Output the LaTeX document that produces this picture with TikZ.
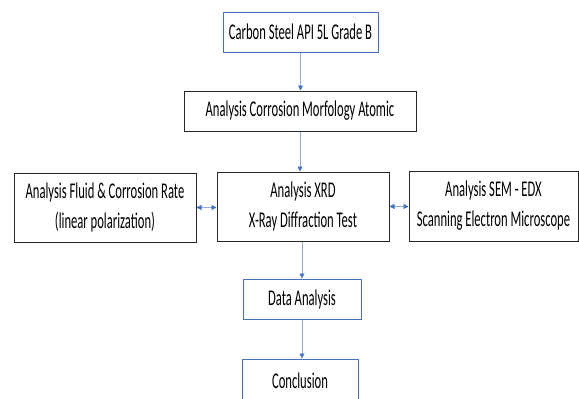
\documentclass[tikz,border=0pt]{standalone}
\usepackage{fontspec}
\setmainfont{Carlito}[FakeStretch=0.56]
\usetikzlibrary{arrows.meta}
\definecolor{boxblue}{RGB}{68,114,196}
\definecolor{lineblue}{RGB}{143,170,220}
\begin{document}
\begin{tikzpicture}[x=1pt,y=-1pt,
  box/.style={draw=black!85, line width=1pt, align=center, inner sep=0pt,
    font=\fontsize{22.5}{30}\selectfont, text=black},
  bluebox/.style={box, draw=boxblue},
  flow/.style={draw=lineblue, line width=.8pt,
    -{Triangle[length=5pt,width=5pt,color=boxblue]}},
  twoway/.style={flow,
    {Triangle[length=5pt,width=5pt,color=boxblue]}-{Triangle[length=5pt,width=5pt,color=boxblue]}}]
\useasboundingbox (0,0) rectangle (579,399);

% main column
\node[bluebox, minimum width=155pt, minimum height=40pt] (steel) at (300.5,32) {Carbon Steel API 5L Grade B};
\node[box, minimum width=232pt, minimum height=40pt] (morph) at (300,111) {Analysis Corrosion Morfology Atomic};

% analysis row
\node[box, minimum width=182pt, minimum height=69pt] (fluid) at (105,207.5) {Analysis Fluid \& Corrosion Rate\\(linear polarization)};
\node[box, minimum width=172pt, minimum height=69pt] (xrd) at (303,206.5) {Analysis XRD\\X-Ray Diffraction Test};
\node[box, minimum width=169pt, minimum height=70pt] (sem) at (493.5,206) {Analysis SEM - EDX\\Scanning Electron Microscope};

% results
\node[bluebox, minimum width=118pt, minimum height=40pt] (data) at (302,299) {Data Analysis};
\node[bluebox, minimum width=116pt, minimum height=44pt] (concl) at (300,381) {Conclusion};

\draw[flow] (steel.south) -- (steel.south |- morph.north);
\draw[flow] (morph.south) -- (morph.south |- xrd.north);
\draw[twoway] (fluid.east) -- (fluid.east -| xrd.west);
\draw[twoway] (xrd.east) -- (xrd.east -| sem.west);
\draw[flow] (data.north |- xrd.south) -- (data.north);
\draw[flow] (data.south) -- (data.south |- concl.north);
\end{tikzpicture}
\end{document}
